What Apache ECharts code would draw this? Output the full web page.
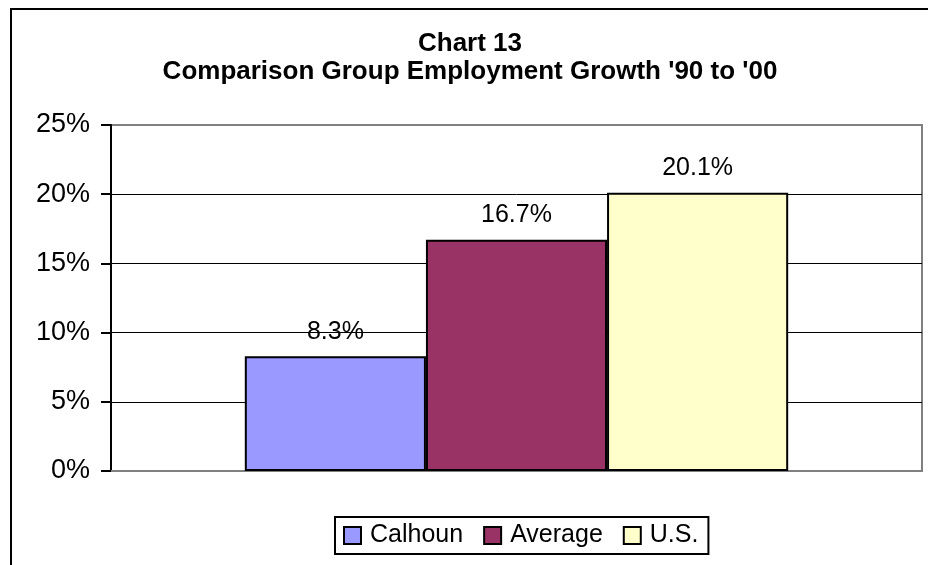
<!DOCTYPE html>
<html>
<head>
<meta charset="utf-8">
<script src="https://cdn.jsdelivr.net/npm/echarts@6/dist/echarts.min.js"></script>
<style>
html,body{margin:0;padding:0;background:#fff;}
#chart{width:928px;height:565px;}
</style>
</head>
<body>
<div id="chart"></div>
<script>
const categories = ['Employment Growth'];
const seriesNames = ['Calhoun', 'Average', 'U.S.'];
const calhoun = [8.3];
const average = [16.7];
const us = [20.1];
const yTicks = [0, 5, 10, 15, 20, 25];
const colors = ['#9999FF', '#993366', '#FFFFCC'];
const FONT = 'Arial, "Liberation Sans", sans-serif';

const chart = echarts.init(document.getElementById('chart'), null, {renderer: 'canvas'});

function barSeries(name, data, color) {
  return {
    name: name,
    type: 'bar',
    data: data,
    barGap: '0%',
    barCategoryGap: '33%',
    itemStyle: {color: color, borderColor: '#000', borderWidth: 2},
    label: {
      show: true,
      position: 'top',
      distance: 12,
      formatter: p => p.value.toFixed(1) + '%',
      color: '#000',
      fontFamily: FONT,
      fontSize: 25
    }
  };
}

chart.setOption({
  animation: false,
  backgroundColor: '#fff',
  title: {
    text: 'Chart 13\nComparison Group Employment Growth \'90 to \'00',
    left: 465,
    top: 25,
    textAlign: 'center',
    textStyle: {fontFamily: FONT, fontSize: 26, fontWeight: 'bold', color: '#000', lineHeight: 28}
  },
  graphic: [{
    type: 'rect',
    shape: {x: 11, y: 9, width: 1000, height: 1000},
    style: {fill: null, stroke: '#000', lineWidth: 2},
    silent: true,
    z: 100
  }],
  legend: {
    data: seriesNames,
    left: 335,
    top: 517,
    orient: 'horizontal',
    icon: 'rect',
    itemWidth: 17,
    itemHeight: 17,
    itemGap: 20,
    padding: [6, 10, 6, 8],
    borderColor: '#000',
    borderWidth: 2,
    itemStyle: {borderColor: '#000', borderWidth: 2},
    textStyle: {fontFamily: FONT, fontSize: 25, color: '#000', padding: [0, 0, 0, 4]}
  },
  grid: {
    left: 111, right: 6, top: 125, bottom: 94,
    show: true,
    borderColor: '#808080',
    borderWidth: 2,
    backgroundColor: 'transparent'
  },
  xAxis: {
    type: 'category',
    data: categories,
    axisLine: {show: true, lineStyle: {color: '#808080', width: 2}},
    axisTick: {show: false},
    axisLabel: {show: false}
  },
  yAxis: {
    type: 'value',
    min: yTicks[0],
    max: yTicks[yTicks.length - 1],
    interval: 5,
    axisLine: {show: true, lineStyle: {color: '#000', width: 2}},
    axisTick: {show: true, inside: false, length: 10, lineStyle: {color: '#000', width: 2}},
    axisLabel: {
      margin: 21,
      formatter: v => v + '%',
      fontFamily: FONT,
      fontSize: 27,
      color: '#000'
    },
    splitLine: {
      show: true,
      lineStyle: {color: ['#808080', '#000', '#000', '#000', '#000', '#808080'], width: 1}
    }
  },
  series: [
    barSeries(seriesNames[0], calhoun, colors[0]),
    barSeries(seriesNames[1], average, colors[1]),
    barSeries(seriesNames[2], us, colors[2])
  ]
});
</script>
</body>
</html>
